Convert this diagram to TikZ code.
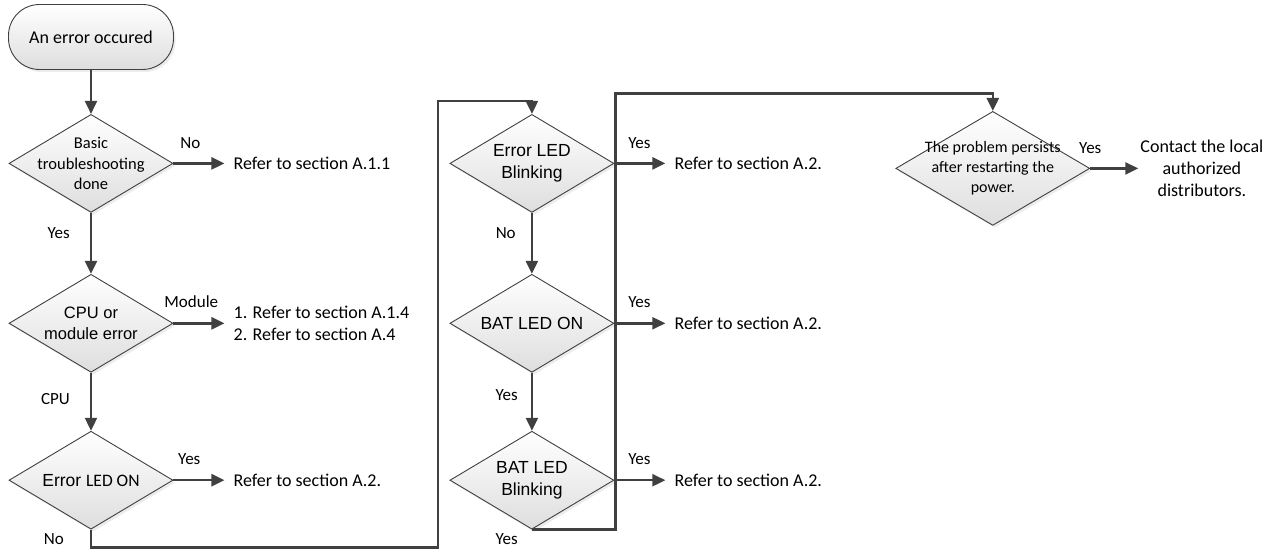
\documentclass[tikz,border=0pt]{standalone}
\usepackage{fontspec}
\setmainfont{Carlito}
\newfontfamily\arialfont{Liberation Sans}
\usetikzlibrary{arrows.meta,positioning,shapes.geometric,calc,shadows}
\definecolor{linegray}{HTML}{404040}
\tikzset{
  term/.style={draw=linegray,line width=0.9pt,rounded corners=31pt,minimum width=165pt,minimum height=65pt,top color=white,bottom color=black!13,drop shadow={shadow xshift=2pt,shadow yshift=-2.5pt,opacity=.15},font=\fontsize{18}{22}\selectfont},
  dec/.style={diamond,draw=linegray,line width=0.9pt,aspect=1.67,inner sep=-8pt,minimum width=164pt,minimum height=98pt,align=center,top color=white,bottom color=black!13,drop shadow={shadow xshift=2pt,shadow yshift=-2.5pt,opacity=.15},font=\fontsize{17.5}{22}\selectfont\arialfont},
  result/.style={align=left,inner xsep=9pt,inner ysep=2pt,font=\fontsize{18}{22.5}\selectfont},
  arr/.style={-{Triangle[length=13pt,width=12pt]},line width=2.4pt,draw=linegray},
  lbl/.style={font=\fontsize{17}{20}\selectfont,inner sep=1pt}
}

\begin{document}
\begin{tikzpicture}
\useasboundingbox (0,0) rectangle (1277pt,-556pt);
\node[term] (start) at (91pt,-37pt) {An error occured};
\node[dec,below=44pt of start,font=\fontsize{16.5}{20.5}\selectfont] (basic) {Basic\\troubleshooting\\done};
\node[dec,below=61pt of basic,font=\fontsize{16.5}{21}\selectfont\arialfont] (cpu) {CPU or\\module error};
\node[dec,below=58pt of cpu] (errled) {Error {\normalfont LED ON}};
\node[dec,right=276pt of basic] (blink) {Error LED\\Blinking};
\node[dec,below=61pt of blink] (batled) {BAT LED ON};
\node[dec,below=58pt of batled] (batblink) {BAT LED\\Blinking};
\node[dec,right=281pt of blink,yshift=-5pt,minimum width=194pt,minimum height=114pt,aspect=1.7,inner sep=-10pt,font=\fontsize{16}{20}\selectfont] (persist) {The problem persists\\after restarting the\\power.};
\node[result,right=51pt of basic] (ref1) {Refer to section A.1.1};
\node[result,right=51pt of cpu] (ref2) {1. Refer to section A.1.4\\2. Refer to section A.4};
\node[result,right=51pt of errled] (ref3) {Refer to section A.2.};
\node[result,right=51pt of blink] (ref4) {Refer to section A.2.};
\node[result,right=51pt of batled] (ref5) {Refer to section A.2.};
\node[result,right=51pt of batblink] (ref6) {Refer to section A.2.};
\node[result,right=48pt of persist,align=center,inner xsep=2pt,font=\fontsize{18}{22}\selectfont] (contact) {Contact the local\\authorized\\distributors.};
\draw[arr] (start) -- (basic);
\draw[arr] (basic) -- node[lbl,above=13pt,pos=.33] {No} (ref1);
\draw[arr] (basic) -- node[lbl,left=19pt,pos=.33] {Yes} (cpu);
\draw[arr] (cpu) -- node[lbl,above=13pt,pos=.35] {Module} (ref2);
\draw[arr] (cpu) -- node[lbl,left=19pt,pos=.45] {CPU} (errled);
\draw[arr] (errled) -- node[lbl,above=13pt,pos=.31] {Yes} (ref3);
\draw[arr] (errled.south) -- node[lbl,left=25pt,pos=.5] {No} ++(0,-18pt) -| ($(blink.north)+(-94pt,13pt)$) -- ++(94pt,0) -- (blink.north);
\draw[arr] (blink) -- node[lbl,above=13pt,pos=.49] {Yes} (ref4);
\draw[arr] (blink) -- node[lbl,left=14pt,pos=.34] {No} (batled);
\draw[arr] (batled) -- node[lbl,above=13pt,pos=.49] {Yes} (ref5);
\draw[arr] (batled) -- node[lbl,left=12pt,pos=.38] {Yes} (batblink);
\draw[arr] (batblink) -- node[lbl,above=13pt,pos=.49] {Yes} (ref6);
\draw[arr] (batblink.south) node[lbl,below left=2pt and 12pt] {Yes} -| ($(blink.east)+(1pt,70pt)$) -| (persist.north);
\draw[arr] (persist) -- node[lbl,above=13pt,pos=0] {Yes} (contact);
\end{tikzpicture}
\end{document}
